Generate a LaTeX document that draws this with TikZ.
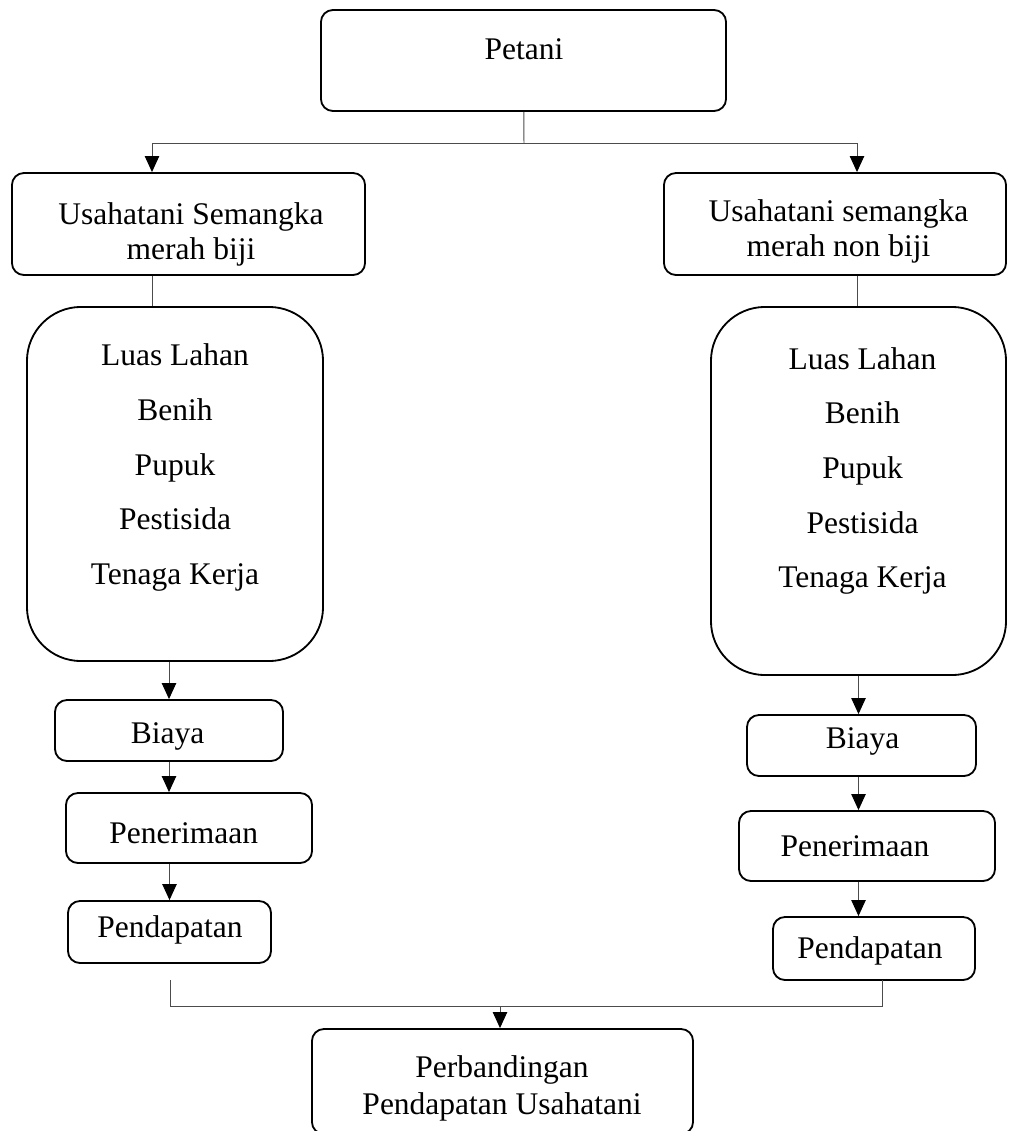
\documentclass[tikz,border=0pt]{standalone}
\usepackage{fontspec}
\setmainfont{Liberation Serif}
\usetikzlibrary{arrows.meta}

\tikzset{
	kotak/.style={draw, line width=1.3pt, rounded corners=0.3cm, inner sep=0pt},
	daftar/.style={kotak, rounded corners=1.35cm},
	teks/.style={inner sep=0pt, align=center, font=\fontsize{22.4}{24.9}\selectfont},
	garis/.style={draw=black!70, line width=0.7pt},
	panah/.style={garis, -{Triangle[length=0.4cm, width=0.36cm, color=black]}}
}

\begin{document}
\begin{tikzpicture}[x=0.025cm, y=-0.025cm]
		\useasboundingbox (0,0) rectangle (1008,1131);

		% kotak-kotak
		\node[kotak, minimum width=10.125cm, minimum height=2.525cm] (petani) at (523.5,60.5) {};
		\node[kotak, minimum width=8.825cm, minimum height=2.55cm] (usaha1) at (188.5,224) {};
		\node[kotak, minimum width=8.55cm, minimum height=2.55cm] (usaha2) at (835,224) {};
		\node[daftar, minimum width=7.4cm, minimum height=8.85cm] (list1) at (175,484) {};
		\node[daftar, minimum width=7.375cm, minimum height=9.2cm] (list2) at (858.5,491) {};
		\node[kotak, minimum width=5.7cm, minimum height=1.525cm] (biaya1) at (169,730.5) {};
		\node[kotak, minimum width=6.15cm, minimum height=1.75cm] (terima1) at (189,828) {};
		\node[kotak, minimum width=5.075cm, minimum height=1.55cm] (dapat1) at (169.5,932) {};
		\node[kotak, minimum width=5.725cm, minimum height=1.525cm] (biaya2) at (861.5,745.5) {};
		\node[kotak, minimum width=6.4cm, minimum height=1.75cm] (terima2) at (867,846) {};
		\node[kotak, minimum width=5.05cm, minimum height=1.575cm] (dapat2) at (874,948.5) {};
		\node[kotak, minimum width=9.525cm, minimum height=2.625cm] (banding) at (502.5,1081.5) {};

		% tulisan
		\node[teks] (petani-t) at (524,49) {Petani};
		\node[teks] (usaha1-t) at (191,234) {Usahatani Semangka\\merah biji};
		\node[teks] (usaha2-t) at (838.5,231) {Usahatani semangka\\merah non biji};
		\node[teks, font=\fontsize{22.4}{39}\selectfont] (list1-t) at (175,467.5) {Luas Lahan\\Benih\\Pupuk\\Pestisida\\Tenaga Kerja};
		\node[teks, font=\fontsize{22.4}{38.8}\selectfont] (list2-t) at (862.5,471) {Luas Lahan\\Benih\\Pupuk\\Pestisida\\Tenaga Kerja};
		\node[teks] (biaya1-t) at (167.5,736.6) {Biaya};
		\node[teks] (terima1-t) at (183.7,833) {Penerimaan};
		\node[teks] (dapat1-t) at (170,929.6) {Pendapatan};
		\node[teks] (biaya2-t) at (862.5,741.6) {Biaya};
		\node[teks] (terima2-t) at (855,846) {Penerimaan};
		\node[teks] (dapat2-t) at (870,950.6) {Pendapatan};
		\node[teks, font=\fontsize{22.4}{26.2}\selectfont] (banding-t) at (502,1088) {Perbandingan\\Pendapatan Usahatani};

		% cabang atas
		\coordinate (cabang) at (524,143);
		\coordinate (kiri) at (152,143);
		\coordinate (kanan) at (857,143);
		\draw[garis] (petani) -- (cabang);
		\draw[garis] (kiri) -- (kanan);
		\draw[panah] (kiri) -- (kiri |- usaha1.north);
		\draw[panah] (kanan) -- (kanan |- usaha2.north);
		\draw[garis] (kiri |- usaha1.south) -- (kiri |- list1.north);
		\draw[garis] (kanan |- usaha2.south) -- (kanan |- list2.north);

		% kolom kiri
		\draw[panah] (biaya1 |- list1.south) -- (biaya1.north);
		\draw[panah] (biaya1) -- (biaya1 |- terima1.north);
		\draw[panah] (dapat1 |- terima1.south) -- (dapat1.north);

		% kolom kanan
		\draw[panah] (list2) -- (list2 |- biaya2.north);
		\draw[panah] (list2 |- biaya2.south) -- (list2 |- terima2.north);
		\draw[panah] (list2 |- terima2.south) -- (list2 |- dapat2.north);

		% gabung bawah
		\coordinate (ujung1) at (170,980);
		\coordinate (ujung2) at (882,980);
		\coordinate (gabung) at (500,1006);
		\draw[garis] (ujung1) |- (gabung) -| (ujung2);
		\draw[panah] (gabung) -- (gabung |- banding.north);

	\end{tikzpicture}
\end{document}
